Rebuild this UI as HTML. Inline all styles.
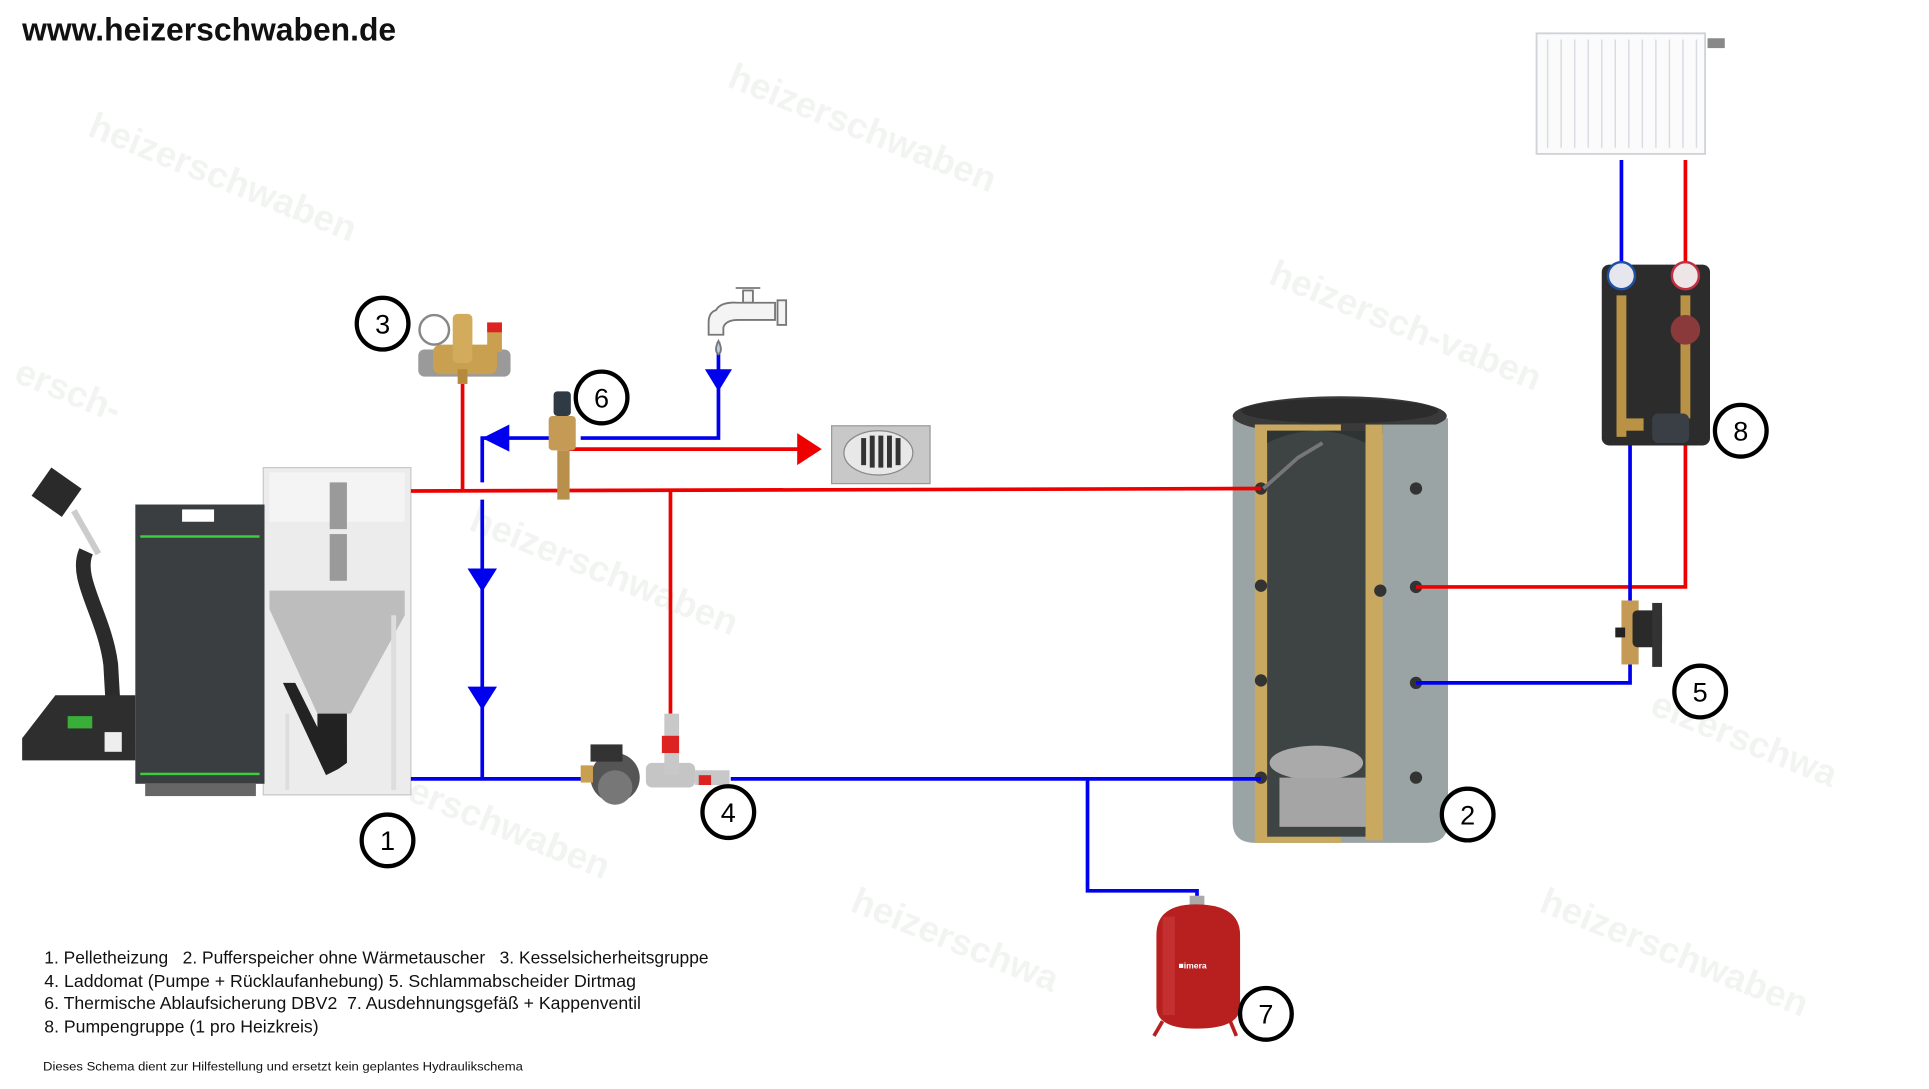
<!DOCTYPE html>
<html><head><meta charset="utf-8"><style>
html,body{margin:0;padding:0;background:#fff;width:1929px;height:1089px;overflow:hidden}
svg{display:block}
</style></head><body>
<svg width="1929" height="1089" viewBox="0 0 1568 885" xmlns="http://www.w3.org/2000/svg" font-family="Liberation Sans, sans-serif">
<rect width="1568" height="885" fill="#fff"/>
<!-- watermarks -->
<g fill="#eef2ee" font-weight="bold" font-size="30" opacity="0.8">
<text x="70" y="110" transform="rotate(22 70 110)">heizerschwaben</text>
<text x="590" y="70" transform="rotate(22 590 70)">heizerschwaben</text>
<text x="1030" y="230" transform="rotate(22 1030 230)">heizersch-vaben</text>
<text x="380" y="430" transform="rotate(22 380 430)">heizerschwaben</text>
<text x="330" y="650" transform="rotate(22 330 650)">erschwaben</text>
<text x="690" y="740" transform="rotate(22 690 740)">heizerschwa</text>
<text x="1250" y="740" transform="rotate(22 1250 740)">heizerschwaben</text>
<text x="1340" y="580" transform="rotate(22 1340 580)">eizerschwa</text>
<text x="10" y="310" transform="rotate(22 10 310)">ersch-</text>
</g>
<text x="18" y="33" font-size="26" font-weight="bold" fill="#111" textLength="304" lengthAdjust="spacingAndGlyphs">www.heizerschwaben.de</text>

<!-- boiler -->
<g>
<rect x="214" y="380" width="120" height="266" fill="#ececec" stroke="#c8c8c8"/>
<rect x="219" y="384" width="110" height="40" fill="#f4f4f4"/>
<rect x="268" y="392" width="14" height="38" fill="#9a9a9a"/>
<rect x="268" y="434" width="14" height="38" fill="#9a9a9a"/>
<polygon points="219,480 329,480 329,500 285,580 258,580 219,495" fill="#bdbdbd"/>
<polygon points="258,580 282,580 282,620 275,625 258,605" fill="#222"/>
<polygon points="230,555 240,555 275,625 265,630" fill="#222"/>
<rect x="232" y="580" width="3" height="62" fill="#ddd"/><rect x="318" y="500" width="4" height="142" fill="#ddd"/>
<rect x="110" y="410" width="105" height="227" fill="#3b3e40"/>
<rect x="148" y="414" width="26" height="10" fill="#fff"/>
<rect x="114" y="435" width="97" height="2" fill="#3ccf3c"/>
<rect x="114" y="628" width="97" height="2" fill="#3ccf3c"/>
<rect x="118" y="637" width="90" height="10" fill="#666"/>
<rect x="31" y="386" width="30" height="28" fill="#2a2a2a" transform="rotate(35 46 400)"/>
<path d="M70 448 C60 470 85 500 90 540 L92 575" stroke="#2b2b2b" stroke-width="12" fill="none"/>
<path d="M60 415 L80 450" stroke="#ccc" stroke-width="5" fill="none"/>
<polygon points="45,565 110,565 110,618 18,618 18,600" fill="#2e2e2e"/>
<rect x="55" y="582" width="20" height="10" fill="#3ccf3c" opacity="0.8"/>
<rect x="85" y="595" width="14" height="16" fill="#eee"/>
</g>

<!-- buffer tank -->
<g>
<path d="M1002 340 L1002 668 Q1002 685 1020 685 L1160 685 Q1177 685 1177 668 L1177 340 Z" fill="#9aa4a4"/>
<ellipse cx="1089" cy="338" rx="87" ry="16" fill="#3a3a3a"/>
<ellipse cx="1089" cy="334" rx="80" ry="10" fill="#2c2c2c"/>
<polygon points="1020,345 1090,345 1090,685 1020,685" fill="#c9a860"/>
<rect x="1030" y="350" width="80" height="330" fill="#3e4444"/>
<path d="M1030 360 Q1070 340 1110 360 L1110 350 L1030 350 Z" fill="#2e3333"/>
<rect x="1110" y="345" width="14" height="338" fill="#c9a860"/>
<rect x="1124" y="345" width="53" height="330" fill="#9aa4a4"/>
<ellipse cx="1070" cy="620" rx="38" ry="14" fill="#aaaaaa"/>
<rect x="1040" y="632" width="70" height="40" fill="#a5a5a5"/>
<g fill="#333"><circle cx="1025" cy="397" r="5"/><circle cx="1025" cy="476" r="5"/><circle cx="1025" cy="553" r="5"/><circle cx="1025" cy="632" r="5"/>
<circle cx="1151" cy="397" r="5"/><circle cx="1151" cy="477" r="5"/><circle cx="1151" cy="555" r="5"/><circle cx="1151" cy="632" r="5"/><circle cx="1122" cy="480" r="5"/></g>
<path d="M1027 397 L1055 372 L1075 360" stroke="#777" stroke-width="3" fill="none"/>
</g>

<!-- radiator -->
<g>
<rect x="1249" y="27" width="137" height="98" fill="#fbfbfb" stroke="#cfd3d8" stroke-width="1.5"/>
<g stroke="#d8dce2" stroke-width="1.2">
<line x1="1258" y1="32" x2="1258" y2="120"/><line x1="1269" y1="32" x2="1269" y2="120"/><line x1="1280" y1="32" x2="1280" y2="120"/><line x1="1291" y1="32" x2="1291" y2="120"/><line x1="1302" y1="32" x2="1302" y2="120"/><line x1="1313" y1="32" x2="1313" y2="120"/><line x1="1324" y1="32" x2="1324" y2="120"/><line x1="1335" y1="32" x2="1335" y2="120"/><line x1="1346" y1="32" x2="1346" y2="120"/><line x1="1357" y1="32" x2="1357" y2="120"/><line x1="1368" y1="32" x2="1368" y2="120"/><line x1="1379" y1="32" x2="1379" y2="120"/>
</g>
<rect x="1388" y="31" width="14" height="8" fill="#888"/>
</g>

<!-- pipes -->
<g fill="none" stroke-width="3">
<path d="M334 399 L1025 397" stroke="#ee0000"/>
<path d="M376 312 L376 399" stroke="#ee0000"/>
<path d="M545 399 L545 580" stroke="#ee0000"/>
<path d="M462 365 L650 365" stroke="#ee0000"/>
<path d="M1151 477 L1370 477 L1370 362" stroke="#ee0000"/>
<path d="M1370 215 L1370 130" stroke="#ee0000"/>
<path d="M584 278 L584 356 L472 356" stroke="#0000ee"/>
<path d="M448 356 L392 356 L392 392 M392 406 L392 633" stroke="#0000ee"/>
<path d="M334 633 L476 633 M594 633 L1025 633" stroke="#0000ee"/>
<path d="M884 633 L884 724 L973 724 L973 732" stroke="#0000ee"/>
<path d="M1151 555 L1325 555 L1325 540 M1325 488 L1325 362" stroke="#0000ee"/>
<path d="M1318 215 L1318 130" stroke="#0000ee"/>
</g>
<g>
<polygon points="648,352 668,365 648,378" fill="#ee0000"/>
<polygon points="573,300 595,300 584,318" fill="#0000ee"/>
<polygon points="392,356 414,345 414,367" fill="#0000ee"/>
<polygon points="380,462 404,462 392,481" fill="#0000ee"/>
<polygon points="380,558 404,558 392,577" fill="#0000ee"/>
</g>

<!-- KSG -->
<g>
<rect x="340" y="284" width="75" height="22" rx="5" fill="#9a9a9a"/>
<rect x="352" y="280" width="52" height="24" rx="6" fill="#c9a050"/>
<rect x="368" y="255" width="16" height="40" rx="4" fill="#d3ab5c"/>
<rect x="396" y="262" width="12" height="24" fill="#caa050"/><rect x="396" y="262" width="12" height="8" fill="#d22"/>
<circle cx="353" cy="268" r="12" fill="#fff" stroke="#888" stroke-width="2"/>
<rect x="372" y="300" width="8" height="12" fill="#b58a3c"/>
</g>
<!-- DBV -->
<g>
<rect x="450" y="318" width="14" height="20" rx="3" fill="#2f3a44"/>
<rect x="446" y="338" width="22" height="28" rx="3" fill="#c59a55"/>
<rect x="453" y="366" width="10" height="40" fill="#b8904c"/>
</g>
<!-- tap -->
<g stroke="#777" stroke-width="1.5" fill="#f4f4f4">
<line x1="598" y1="234" x2="618" y2="234"/>
<rect x="604" y="236" width="8" height="10"/>
<path d="M582 252 Q586 245 600 246 L630 246 L630 260 L600 260 Q590 260 588 266 L588 272 L576 272 L576 262 Q576 254 582 252Z"/>
<rect x="632" y="244" width="7" height="20"/>
<path d="M584 277 Q580 285 584 288 Q588 285 584 277Z" fill="#bcd"/>
</g>
<!-- drain -->
<g>
<rect x="676" y="346" width="80" height="47" fill="#c8c8c8" stroke="#999"/>
<ellipse cx="714" cy="368" rx="28" ry="18" fill="#e8e8e8" stroke="#888"/>
<g fill="#333"><rect x="700" y="356" width="4" height="22"/><rect x="707" y="354" width="4" height="26"/><rect x="714" y="354" width="4" height="26"/><rect x="721" y="354" width="4" height="26"/><rect x="728" y="356" width="4" height="22"/></g>
</g>
<!-- laddomat -->
<g>
<circle cx="500" cy="632" r="20" fill="#555"/>
<circle cx="500" cy="640" r="14" fill="#777"/>
<rect x="480" y="605" width="26" height="14" fill="#333"/>
<rect x="472" y="622" width="10" height="14" fill="#c9a050"/>
<rect x="525" y="620" width="40" height="20" rx="5" fill="#c5c5c5"/>
<rect x="540" y="580" width="12" height="50" fill="#c8c8c8"/>
<rect x="538" y="598" width="14" height="14" fill="#d22"/>
<rect x="565" y="626" width="28" height="12" fill="#c8c8c8"/>
<rect x="568" y="630" width="10" height="8" fill="#d22"/>
</g>
<!-- pump group -->
<g>
<rect x="1302" y="215" width="88" height="147" rx="6" fill="#2c2c2c"/>
<circle cx="1318" cy="224" r="11" fill="#e6e6ee" stroke="#2050a0" stroke-width="2"/>
<circle cx="1370" cy="224" r="11" fill="#eee6e6" stroke="#c03040" stroke-width="2"/>
<rect x="1314" y="240" width="8" height="115" fill="#b99245"/>
<rect x="1366" y="240" width="8" height="100" fill="#b99245"/>
<circle cx="1370" cy="268" r="12" fill="#8a3a3a"/>
<rect x="1314" y="340" width="22" height="10" fill="#b99245"/>
<rect x="1343" y="336" width="30" height="24" rx="5" fill="#3a3f46"/>
</g>
<!-- dirt separator -->
<g>
<rect x="1318" y="488" width="14" height="52" fill="#c59a55"/>
<rect x="1327" y="496" width="24" height="30" rx="4" fill="#2a2a2a"/>
<rect x="1343" y="490" width="8" height="52" fill="#333"/>
<rect x="1313" y="510" width="8" height="8" fill="#222"/>
</g>
<!-- expansion tank -->
<g>
<rect x="967" y="728" width="12" height="10" fill="#aaa"/>
<path d="M940 760 Q940 735 972 735 Q1008 735 1008 760 L1008 818 Q1008 836 972 836 Q940 836 940 818 Z" fill="#b82020"/>
<rect x="945" y="745" width="10" height="80" fill="#d04040" opacity="0.5"/>
<text x="958" y="787" font-size="7" fill="#fff" font-weight="bold">■imera</text>
<path d="M945 830 L938 842 M1000 830 L1005 842" stroke="#b82020" stroke-width="3"/>
</g>

<!-- number circles -->
<g fill="#fff" stroke="#000" stroke-width="3.5">
<circle cx="315" cy="683" r="21"/><circle cx="1193" cy="662" r="21"/><circle cx="311" cy="263" r="21"/>
<circle cx="592" cy="660" r="21"/><circle cx="1382" cy="562" r="21"/><circle cx="489" cy="323" r="21"/>
<circle cx="1029" cy="824" r="21"/><circle cx="1415" cy="350" r="21"/>
</g>
<g font-size="22" text-anchor="middle" fill="#000">
<text x="315" y="691">1</text><text x="1193" y="670">2</text><text x="311" y="271">3</text>
<text x="592" y="668">4</text><text x="1382" y="570">5</text><text x="489" y="331">6</text>
<text x="1029" y="832">7</text><text x="1415" y="358">8</text>
</g>

<!-- legend -->
<g font-size="14.5" fill="#111">
<text x="36" y="783" textLength="540" lengthAdjust="spacingAndGlyphs">1. Pelletheizung &#160;&#160;2. Pufferspeicher ohne Wärmetauscher &#160;&#160;3. Kesselsicherheitsgruppe</text>
<text x="36" y="802" textLength="481" lengthAdjust="spacingAndGlyphs">4. Laddomat (Pumpe + Rücklaufanhebung) 5. Schlammabscheider Dirtmag</text>
<text x="36" y="820" textLength="485" lengthAdjust="spacingAndGlyphs">6. Thermische Ablaufsicherung DBV2 &#160;7. Ausdehnungsgefäß + Kappenventil</text>
<text x="36" y="839" textLength="223" lengthAdjust="spacingAndGlyphs">8. Pumpengruppe (1 pro Heizkreis)</text>
<text x="35" y="870" font-size="10" textLength="390" lengthAdjust="spacingAndGlyphs">Dieses Schema dient zur Hilfestellung und ersetzt kein geplantes Hydraulikschema</text>
</g>
</svg>
</body></html>
